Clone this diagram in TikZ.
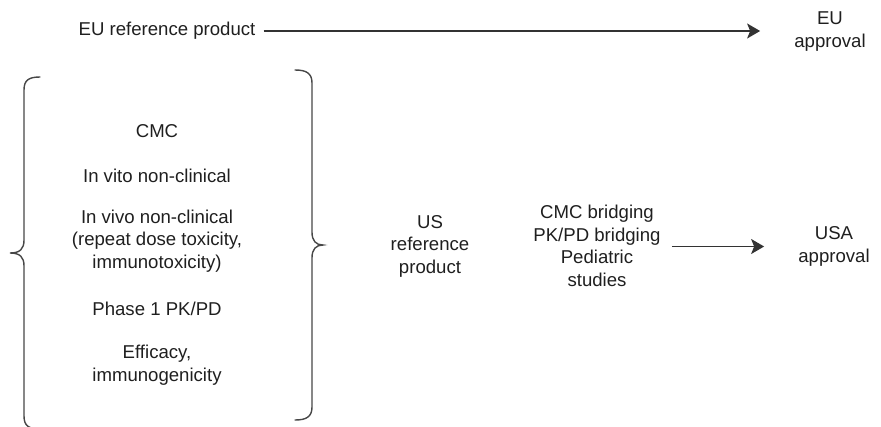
\documentclass[tikz,border=0pt]{standalone}
\usepackage{fontspec}
\setmainfont{Liberation Sans}
\usetikzlibrary{arrows.meta}
\begin{document}
\begin{tikzpicture}[x=1pt,y=-1pt,
  lbl/.style={font=\fontsize{18.6}{22.5}\selectfont, text=black!88, align=center, inner sep=0pt},
  arr/.style={line width=1.5pt, draw=black!80, -{Stealth[length=13pt,width=15pt,inset=3pt]}},
  brace/.style={line width=1.4pt, draw=black!72, line cap=round}]
\useasboundingbox (0,0) rectangle (881,426);

% top row
\node[lbl] (euref) at (167,31) {EU reference product};
\node[lbl] (euapp) at (830,31.5) {EU\\approval};
\draw[arr, shorten <=8pt, shorten >=34pt] (euref.east) -- (euref.east -| euapp.west);

% studies inside the braces
\node[lbl] (cmc)   at (157,131) {CMC};
\node[lbl] (vitro) at (157,176) {In vito non-clinical};
\node[lbl] (vivo)  at (157,241) {In vivo non-clinical\\(repeat dose toxicity,\\immunotoxicity)};
\node[lbl] (ph1)   at (157,309) {Phase 1 PK/PD};
\node[lbl] (eff)   at (157,365) {Efficacy,\\immunogenicity};

% left curly brace
\draw[brace] (40,77) .. controls (29,77) and (24,80) .. (24,90) -- (24,240)
  .. controls (24,249) and (20,253) .. (10,253)
  .. controls (20,253) and (24,257) .. (24,266) -- (24,416)
  .. controls (24,426) and (29,429) .. (40,429);

% right curly brace
\draw[brace] (295,70) .. controls (306,70) and (312,73) .. (312,83) -- (312,232)
  .. controls (312,241) and (316,245) .. (323,245)
  .. controls (316,245) and (312,249) .. (312,258) -- (312,407)
  .. controls (312,417) and (306,420) .. (295,420);

% US row
\node[lbl] (usref) at (430,246) {US\\reference\\product};
\node[lbl] (bridge) at (597,246) {CMC bridging\\PK/PD bridging\\Pediatric\\studies};
\node[lbl] (usapp) at (834,246.5) {USA\\approval};
\draw[arr, shorten <=11pt, shorten >=34pt] (bridge.east |- usapp.west) -- (usapp.west);
\end{tikzpicture}
\end{document}
